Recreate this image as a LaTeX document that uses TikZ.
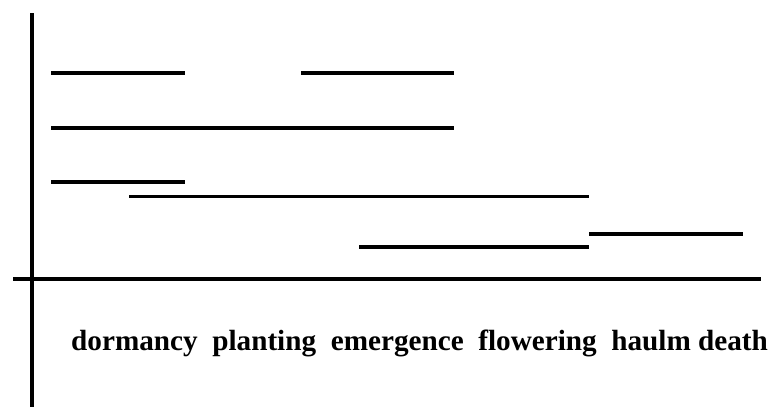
\documentclass[tikz,border=0pt]{standalone}
\usepackage{fontspec}
\setmainfont{Liberation Serif}
\begin{document}
\begin{tikzpicture}[x=1pt,y=-1pt,
  axis/.style={line width=3.2pt},
  bar/.style={line width=3.6pt},
  thinbar/.style={line width=3pt},
  lbl/.style={font=\fontsize{29.2}{32}\selectfont\bfseries, anchor=base west, inner sep=0pt}]
\useasboundingbox[fill=white] (0,0) rectangle (781,407);
% axes
\draw[axis] (32,13) -- (32,407);
\draw[axis] (13,279) -- (761,279);
% bars
\draw[bar] (51,73) -- (185,73);
\draw[bar] (301,73) -- (454,73);
\draw[bar] (51,128) -- (454,128);
\draw[bar] (51,182) -- (185,182);
\draw[thinbar] (129,196) -- (589,196);
\draw[bar] (359,247) -- (589,247);
\draw[bar] (589,234) -- (743,234);
% labels
\node[lbl] (stages) at (71,350) {dormancy\ \ planting\ \ emergence\ \ flowering\ \ haulm death};
\end{tikzpicture}
\end{document}
